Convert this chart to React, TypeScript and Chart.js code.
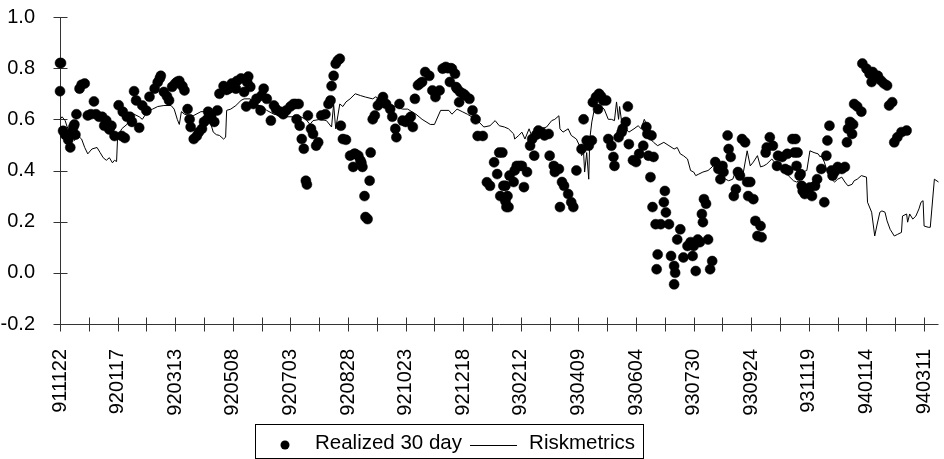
import { useEffect, useRef } from 'react';
import { Chart, registerables } from 'chart.js';

Chart.register(...registerables);

const FONT = '"Liberation Sans", Arial, Helvetica, sans-serif';

// Date labels, one every 8 weeks starting 22 Nov 1991 (x values are days since then)
const DATE_LABELS = [
  '911122', '920117', '920313', '920508', '920703', '920828', '921023', '921218',
  '930212', '930409', '930604', '930730', '930924', '931119', '940114', '940311',
];
const LABEL_EVERY_DAYS = 56;
const TICK_EVERY_DAYS = 28;
const LAST_DAY = 854;

const Y_MIN = -0.2;
const Y_MAX = 1.0;
const Y_STEP = 0.2;

// Realized 30 day volatility
const realizedDays = [
  0, 0, 1, 3, 5, 8, 10, 12, 13, 14, 15, 16, 19, 21, 24, 27, 30, 33, 35, 38,
  41, 43, 45, 48, 50, 53, 57, 60, 61, 63, 65, 68, 70, 72, 74, 77, 80, 84, 87, 92,
  95, 97, 98, 101, 104, 106, 109, 112, 114, 116, 119, 121, 124, 126, 127, 130, 133, 135, 138, 140,
  143, 144, 145, 147, 150, 153, 155, 159, 162, 164, 167, 171, 172, 176, 179, 181, 182, 183, 185, 188,
  191, 195, 196, 198, 201, 205, 208, 210, 214, 217, 220, 224, 227, 229, 230, 232, 233, 235, 237, 239,
  240, 241, 244, 246, 249, 251, 254, 258, 261, 263, 264, 266, 268, 270, 272, 273, 275, 278, 282, 285,
  286, 287, 290, 292, 293, 294, 296, 297, 299, 301, 302, 304, 306, 309, 312, 314, 317, 321, 323, 326,
  327, 330, 333, 336, 339, 341, 343, 345, 348, 350, 352, 355, 359, 362, 365, 369, 372, 375, 377, 379,
  380, 381, 384, 385, 386, 388, 389, 392, 394, 398, 401, 404, 406, 411, 415, 418, 422, 425, 427, 428,
  430, 431, 433, 433, 434, 435, 436, 437, 441, 442, 444, 447, 449, 451, 454, 457, 459, 461, 463, 465,
  468, 471, 475, 476, 480, 481, 485, 486, 488, 490, 494, 497, 499, 502, 507, 509, 512, 514, 517, 518,
  521, 523, 524, 526, 528, 531, 533, 536, 538, 539, 543, 546, 547, 550, 552, 553, 557, 560, 563, 567,
  570, 571, 572, 574, 575, 576, 577, 579, 580, 581, 584, 587, 588, 589, 592, 594, 597, 597, 598, 600,
  603, 606, 610, 613, 615, 616, 618, 620, 622, 624, 625, 626, 628, 630, 632, 634, 637, 640, 642, 644,
  645, 649, 650, 652, 655, 657, 659, 661, 663, 666, 668, 669, 671, 674, 676, 678, 681, 682, 686, 687,
  690, 693, 697, 698, 702, 705, 707, 708, 712, 714, 715, 716, 717, 719, 720, 721, 722, 724, 726, 727,
  729, 731, 734, 736, 740, 743, 745, 746, 748, 750, 751, 753, 756, 760, 763, 765, 766, 768, 770, 771,
  772, 775, 779, 780, 784, 787, 789, 790, 792, 795, 798, 801, 804, 806, 809, 811, 814, 818, 823,
];
const realizedVol = [
  0.71, 0.82, 0.82, 0.555, 0.54, 0.52, 0.49, 0.55, 0.57, 0.58, 0.54, 0.62, 0.72, 0.735, 0.74, 0.615, 0.62, 0.67, 0.62, 0.61,
  0.61, 0.575, 0.595, 0.56, 0.575, 0.535, 0.655, 0.535, 0.63, 0.527, 0.61, 0.61, 0.59, 0.71, 0.674, 0.567, 0.654, 0.634, 0.688, 0.72,
  0.745, 0.76, 0.77, 0.707, 0.69, 0.674, 0.727, 0.74, 0.747, 0.75, 0.73, 0.713, 0.64, 0.6, 0.57, 0.523, 0.535, 0.55, 0.563, 0.59,
  0.6, 0.63, 0.61, 0.614, 0.59, 0.635, 0.7, 0.73, 0.715, 0.72, 0.74, 0.72, 0.75, 0.76, 0.707, 0.65, 0.745, 0.767, 0.727, 0.66,
  0.68, 0.635, 0.693, 0.72, 0.68, 0.595, 0.654, 0.64, 0.63, 0.62, 0.635, 0.65, 0.66, 0.66, 0.6, 0.66, 0.575, 0.523, 0.485, 0.36,
  0.345, 0.615, 0.563, 0.543, 0.497, 0.51, 0.615, 0.62, 0.66, 0.674, 0.73, 0.77, 0.817, 0.83, 0.837, 0.575, 0.523, 0.52, 0.458, 0.414,
  0.465, 0.465, 0.458, 0.44, 0.43, 0.414, 0.3, 0.218, 0.21, 0.36, 0.47, 0.6, 0.615, 0.654, 0.67, 0.687, 0.66, 0.64, 0.61, 0.563,
  0.53, 0.66, 0.595, 0.59, 0.6, 0.61, 0.57, 0.68, 0.733, 0.74, 0.746, 0.785, 0.77, 0.713, 0.687, 0.713, 0.798, 0.805, 0.8, 0.746,
  0.8, 0.798, 0.778, 0.726, 0.72, 0.667, 0.707, 0.7, 0.693, 0.68, 0.635, 0.6, 0.535, 0.535, 0.354, 0.34, 0.432, 0.386, 0.47, 0.3,
  0.47, 0.34, 0.28, 0.34, 0.257, 0.3, 0.257, 0.38, 0.355, 0.4, 0.418, 0.418, 0.418, 0.335, 0.394, 0.497, 0.523, 0.458, 0.54, 0.556,
  0.55, 0.537, 0.543, 0.458, 0.418, 0.394, 0.406, 0.257, 0.355, 0.34, 0.308, 0.276, 0.257, 0.4, 0.484, 0.6, 0.517, 0.497, 0.517, 0.667,
  0.687, 0.64, 0.7, 0.69, 0.674, 0.674, 0.523, 0.497, 0.453, 0.418, 0.53, 0.55, 0.563, 0.59, 0.65, 0.503, 0.44, 0.433, 0.465, 0.497,
  0.57, 0.543, 0.458, 0.374, 0.537, 0.257, 0.453, 0.19, 0.014, 0.072, 0.19, 0.276, 0.32, 0.236, 0.19, 0.066, 0.027, -0.045, 0.0, 0.13,
  0.17, 0.06, 0.105, 0.12, 0.066, 0.105, 0.007, 0.13, 0.12, 0.23, 0.198, 0.288, 0.27, 0.13, 0.014, 0.046, 0.433, 0.406, 0.366, 0.418,
  0.394, 0.537, 0.484, 0.453, 0.3, 0.327, 0.394, 0.38, 0.523, 0.51, 0.355, 0.3, 0.355, 0.288, 0.203, 0.144, 0.183, 0.139, 0.47, 0.49,
  0.53, 0.497, 0.418, 0.458, 0.453, 0.406, 0.465, 0.4, 0.523, 0.47, 0.523, 0.418, 0.47, 0.38, 0.386, 0.34, 0.32, 0.308, 0.327, 0.314,
  0.334, 0.3, 0.34, 0.366, 0.406, 0.276, 0.458, 0.517, 0.575, 0.4, 0.38, 0.394, 0.414, 0.406, 0.414, 0.51, 0.563, 0.59, 0.543, 0.58,
  0.66, 0.65, 0.63, 0.818, 0.798, 0.778, 0.746, 0.785, 0.765, 0.77, 0.752, 0.74, 0.732, 0.654, 0.667, 0.51, 0.53, 0.55, 0.556,
];

// Riskmetrics volatility forecast
const riskDays = [
  0, 2, 5, 7, 12, 14, 17, 21, 24, 27, 31, 36, 39, 42, 45, 48, 51, 53, 55, 56,
  60, 65, 68, 72, 77, 80, 85, 90, 95, 101, 108, 111, 114, 116, 118, 121, 126, 130, 137, 143,
  146, 149, 152, 155, 159, 161, 162, 166, 171, 176, 179, 185, 188, 195, 201, 208, 214, 220, 227, 234,
  239, 243, 246, 253, 259, 264, 266, 268, 272, 275, 278, 282, 287, 292, 297, 304, 307, 317, 323, 333,
  338, 346, 352, 360, 364, 370, 378, 381, 386, 391, 396, 406, 412, 418, 423, 427, 432, 436, 441, 442,
  446, 449, 452, 456, 459, 462, 465, 468, 473, 478, 481, 485, 486, 489, 494, 497, 502, 505, 507, 509,
  510, 512, 514, 515, 517, 519, 523, 526, 529, 533, 536, 539, 541, 543, 544, 546, 550, 553, 558, 562,
  565, 568, 572, 574, 577, 581, 587, 592, 597, 600, 603, 606, 610, 613, 616, 618, 621, 625, 630, 634,
  637, 640, 644, 647, 650, 654, 657, 659, 664, 668, 671, 674, 678, 681, 684, 687, 692, 695, 698, 702,
  705, 708, 713, 716, 719, 722, 726, 729, 733, 737, 739, 740, 743, 746, 750, 753, 756, 760, 763, 766,
  770, 772, 775, 779, 784, 785, 789, 792, 794, 797, 799, 802, 804, 807, 811, 814, 818, 819, 823, 824,
  826, 829, 832, 835, 837, 839, 840, 844, 846, 850, 854,
];
const riskVol = [
  0.6, 0.61, 0.595, 0.57, 0.537, 0.517, 0.537, 0.523, 0.49, 0.465, 0.484, 0.49, 0.47, 0.45, 0.44, 0.45, 0.43, 0.44, 0.435, 0.53,
  0.563, 0.58, 0.6, 0.62, 0.61, 0.6, 0.63, 0.64, 0.65, 0.654, 0.654, 0.64, 0.6, 0.58, 0.63, 0.62, 0.615, 0.615, 0.63, 0.63,
  0.59, 0.55, 0.54, 0.537, 0.523, 0.53, 0.635, 0.64, 0.654, 0.674, 0.68, 0.68, 0.654, 0.654, 0.635, 0.62, 0.615, 0.61, 0.61, 0.61,
  0.6, 0.58, 0.595, 0.6, 0.595, 0.57, 0.66, 0.563, 0.66, 0.65, 0.668, 0.68, 0.7, 0.693, 0.687, 0.68, 0.688, 0.66, 0.654, 0.64,
  0.64, 0.62, 0.6, 0.58, 0.58, 0.635, 0.635, 0.62, 0.64, 0.63, 0.62, 0.595, 0.57, 0.575, 0.595, 0.575, 0.57, 0.563, 0.543, 0.523,
  0.537, 0.55, 0.523, 0.563, 0.53, 0.523, 0.543, 0.563, 0.57, 0.595, 0.6, 0.614, 0.563, 0.55, 0.563, 0.537, 0.523, 0.497, 0.458, 0.47,
  0.394, 0.47, 0.366, 0.523, 0.59, 0.63, 0.654, 0.65, 0.64, 0.6, 0.6, 0.595, 0.668, 0.6, 0.65, 0.59, 0.563, 0.55, 0.563, 0.575,
  0.563, 0.6, 0.563, 0.523, 0.51, 0.497, 0.51, 0.497, 0.484, 0.49, 0.465, 0.458, 0.445, 0.4, 0.394, 0.38, 0.386, 0.394, 0.4, 0.414,
  0.433, 0.414, 0.38, 0.366, 0.36, 0.366, 0.4, 0.366, 0.386, 0.477, 0.418, 0.433, 0.458, 0.414, 0.418, 0.425, 0.445, 0.43, 0.418, 0.4,
  0.394, 0.38, 0.36, 0.355, 0.36, 0.394, 0.4, 0.477, 0.47, 0.465, 0.453, 0.458, 0.433, 0.394, 0.366, 0.355, 0.366, 0.374, 0.355, 0.34,
  0.346, 0.36, 0.366, 0.38, 0.374, 0.276, 0.237, 0.144, 0.183, 0.237, 0.242, 0.237, 0.203, 0.17, 0.144, 0.15, 0.158, 0.222, 0.23, 0.198,
  0.23, 0.21, 0.222, 0.25, 0.276, 0.282, 0.183, 0.178, 0.178, 0.366, 0.355,
];

const toPoints = (xs: number[], ys: number[]) => xs.map((x, i) => ({ x, y: ys[i] }));

// Axis lines with tick marks that cross the axis, drawn under the data
const crossTicks = {
  id: 'crossTicks',
  beforeDatasetsDraw(chart: any) {
    const { ctx, chartArea: a, scales } = chart;
    const ax = Math.round(a.left) + 0.5;
    const ay = Math.round(a.bottom) + 0.5;
    ctx.save();
    ctx.strokeStyle = '#333';
    ctx.lineWidth = 1;
    ctx.beginPath();
    ctx.moveTo(ax, Math.round(a.top));
    ctx.lineTo(ax, ay);
    ctx.lineTo(a.right, ay);
    for (const t of scales.y.ticks) {
      const py = Math.round(scales.y.getPixelForValue(t.value)) + 0.5;
      ctx.moveTo(ax - 7, py);
      ctx.lineTo(ax + 7, py);
    }
    for (const t of scales.x.ticks) {
      const px = Math.round(scales.x.getPixelForValue(t.value)) + 0.5;
      ctx.moveTo(px, ay - 7);
      ctx.lineTo(px, ay + 7);
    }
    ctx.stroke();
    ctx.restore();
  },
};

// Boxed legend below the axis labels
const boxedLegend = {
  id: 'boxedLegend',
  afterDraw(chart: any) {
    const ctx = chart.ctx;
    const [dots, line] = chart.data.datasets;
    const left = 255;
    const right = 643;
    const top = 424;
    const height = 34;
    const baseline = 449;
    const markY = 445;
    ctx.save();
    ctx.font = `20.5px ${FONT}`;
    ctx.fillStyle = '#000';
    ctx.strokeStyle = '#000';
    ctx.lineWidth = 1;
    ctx.textBaseline = 'alphabetic';
    ctx.textAlign = 'left';

    ctx.beginPath();
    ctx.arc(left + 30, markY, 4.5, 0, Math.PI * 2);
    ctx.fill();

    ctx.fillText(dots.label, left + 60, baseline);

    ctx.beginPath();
    ctx.moveTo(470, markY + 0.5);
    ctx.lineTo(517, markY + 0.5);
    ctx.stroke();

    ctx.textAlign = 'right';
    ctx.fillText(line.label, right - 8, baseline);

    ctx.strokeRect(left + 0.5, top + 0.5, right - left, height);
    ctx.restore();
  },
};

export default function App() {
  const canvasRef = useRef<HTMLCanvasElement>(null);

  useEffect(() => {
    const canvas = canvasRef.current;
    if (!canvas) return;

    const chart = new Chart(canvas, {
      type: 'scatter',
      data: {
        datasets: [
          {
            label: 'Realized 30 day',
            data: toPoints(realizedDays, realizedVol),
            showLine: false,
            pointRadius: 5,
            pointBorderWidth: 0.5,
            pointBackgroundColor: '#000',
            pointBorderColor: '#000',
            clip: false,
            order: 2,
          },
          {
            label: 'Riskmetrics',
            data: toPoints(riskDays, riskVol),
            showLine: true,
            borderColor: '#000',
            borderWidth: 1,
            pointRadius: 0,
            tension: 0,
            clip: false,
            order: 1,
          },
        ],
      },
      options: {
        responsive: false,
        animation: false,
        events: [],
        layout: { padding: { top: 17, right: 0, bottom: 0, left: 0 } },
        plugins: {
          legend: { display: false },
          tooltip: { enabled: false },
        },
        scales: {
          x: {
            type: 'linear',
            min: 0,
            max: LAST_DAY,
            grid: { display: false },
            border: { display: false },
            ticks: {
              stepSize: TICK_EVERY_DAYS,
              includeBounds: false,
              autoSkip: false,
              minRotation: 90,
              maxRotation: 90,
              padding: 17,
              color: '#000',
              font: { family: FONT, size: 20 },
              callback: (value: any) => {
                const v = Math.round(Number(value));
                return v % LABEL_EVERY_DAYS === 0 ? DATE_LABELS[v / LABEL_EVERY_DAYS] ?? '' : '';
              },
            },
            afterFit: (scale: any) => {
              scale.height = 135;
              scale.paddingLeft = 0;
              scale.paddingRight = 0;
            },
          },
          y: {
            type: 'linear',
            min: Y_MIN,
            max: Y_MAX,
            grid: { display: false },
            border: { display: false },
            ticks: {
              stepSize: Y_STEP,
              padding: 17,
              color: '#000',
              font: { family: FONT, size: 20 },
              callback: (value: any) => {
                const v = Number(value);
                return (Math.abs(v) < 1e-9 ? 0 : v).toFixed(1);
              },
            },
            afterFit: (scale: any) => {
              scale.width = 60;
              scale.paddingTop = 0;
              scale.paddingBottom = 0;
            },
          },
        },
      },
      plugins: [crossTicks, boxedLegend],
    });

    return () => chart.destroy();
  }, []);

  return (
    <div style={{ position: 'fixed', left: 0, top: 0, width: 944, height: 459, background: '#fff' }}>
      <canvas ref={canvasRef} width={944} height={459} style={{ display: 'block' }} />
    </div>
  );
}
